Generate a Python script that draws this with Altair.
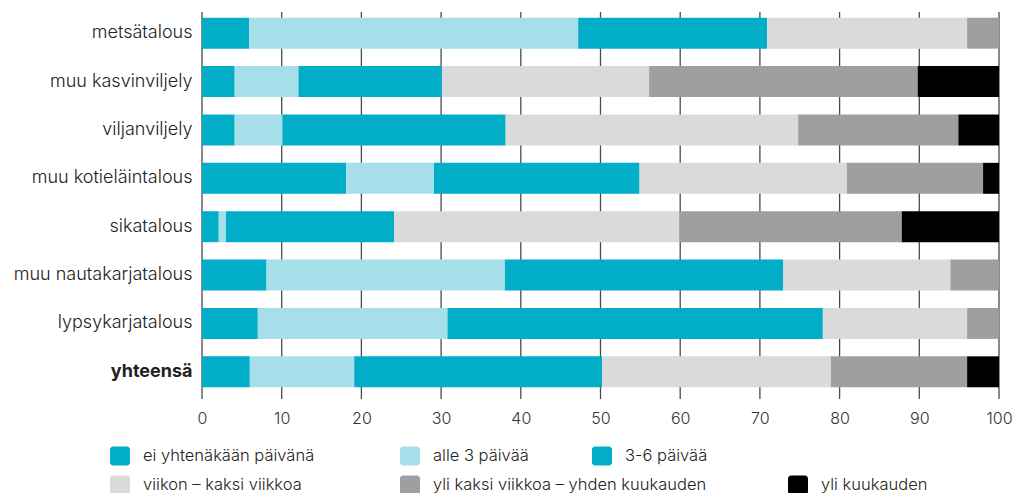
import altair as alt
import pandas as pd

categories = ["metsätalous", "muu kasvinviljely", "viljanviljely", "muu kotieläintalous",
              "sikatalous", "muu nautakarjatalous", "lypsykarjatalous", "yhteensä"]
series = ["ei yhtenäkään päivänä", "alle 3 päivää", "3-6 päivää",
          "viikon – kaksi viikkoa", "yli kaksi viikkoa – yhden kuukauden", "yli kuukauden"]
colors = ["#02ADC8", "#A6DFEA", "#02ADC8", "#D9DBDB", "#9E9FA1", "#000000"]

ei_yhtenakaan = [5.9, 4.1, 4.1, 18.1, 2.1, 8.1, 7.0, 6.0]
alle_3 = [41.3, 8.0, 6.0, 11.0, 0.9, 29.9, 23.8, 13.1]
p3_6 = [23.7, 18.0, 28.0, 25.8, 21.1, 34.9, 47.1, 31.1]
viikko_2vk = [25.1, 26.0, 36.7, 26.0, 35.8, 21.0, 18.1, 28.7]
yli_2vk_kk = [4.0, 33.7, 20.1, 17.1, 27.9, 6.1, 4.0, 17.1]
yli_kk = [0.0, 10.2, 5.1, 2.0, 12.2, 0.0, 0.0, 4.0]
x_ticks = [0, 10, 20, 30, 40, 50, 60, 70, 80, 90, 100]

values = [ei_yhtenakaan, alle_3, p3_6, viikko_2vk, yli_2vk_kk, yli_kk]
rows = []
for si, (s, vals) in enumerate(zip(series, values)):
    for c, v in zip(categories, vals):
        rows.append({"cat": c, "series": s, "order": si, "value": v})
df = pd.DataFrame(rows)

FONT = "Inter"
W, H = 797, 387
LEFT = 194

xscale = alt.Scale(domain=[0, 100], nice=False, zero=True)
xaxis = alt.Axis(values=x_ticks, grid=False, ticks=False, domain=False,
                 labelFontSize=16, labelColor="#333", labelFont=FONT,
                 labelFontWeight=300, labelPadding=14, labelFlush=False,
                 labelOverlap=False)

grid = alt.Chart(pd.DataFrame({"t": x_ticks})).mark_rule(
    color="#4a4a4a", strokeWidth=1.3
).encode(
    x=alt.X("t:Q", scale=xscale, axis=xaxis, title=None),
    y=alt.value(3),
    y2=alt.value(H + 3),
)

bars = alt.Chart(df).mark_bar().encode(
    y=alt.Y("cat:N", sort=categories, title=None,
            scale=alt.Scale(paddingInner=0.36, paddingOuter=0.18),
            axis=alt.Axis(ticks=False, domain=False, labelFontSize=18, labelColor="#222",
                          labelFont=FONT, labelPadding=10,
                          labelFontWeight=alt.condition("datum.value == 'yhteensä'",
                                                        alt.value("bold"), alt.value(300)))),
    x=alt.X("value:Q", stack="zero", scale=xscale, title=None, axis=xaxis),
    color=alt.Color("series:N", scale=alt.Scale(domain=series, range=colors), legend=None),
    order=alt.Order("order:Q"),
)

main = alt.layer(grid, bars)

# manual legend (layout positions in pixels relative to plot origin)
sym_abs = [120, 410, 602, 120, 410, 798]
sym_x = [x - 8 - LEFT for x in sym_abs]
row_y = [447, 447, 447, 476, 476, 476]
leg = pd.DataFrame({
    "label": series,
    "col": colors,
    "x1": [x - 10 for x in sym_x],
    "x2": [x + 10 for x in sym_x],
    "y1": [y - 9.5 for y in row_y],
    "y2": [y + 9.5 for y in row_y],
    "tx": [x + 23 for x in sym_x],
    "ty": row_y,
})
leg_sym = alt.Chart(leg).mark_rect(cornerRadius=3).encode(
    x=alt.X("x1:Q", scale=None, axis=None), x2="x2:Q",
    y=alt.Y("y1:Q", scale=None, axis=None), y2="y2:Q",
    color=alt.Color("col:N", scale=None, legend=None),
)
leg_txt = alt.Chart(leg).mark_text(align="left", baseline="middle", fontSize=16.5,
                                   font=FONT, fontWeight=300, color="#222").encode(
    x=alt.X("tx:Q", scale=None, axis=None),
    y=alt.Y("ty:Q", scale=None, axis=None),
    text="label:N",
)

chart = alt.layer(main, leg_sym, leg_txt).resolve_scale(
    x="independent", y="independent", color="independent"
).properties(
    width=W, height=H,
    autosize=alt.AutoSizeParams(type="none"),
    padding={"left": LEFT, "top": 1, "right": 16, "bottom": 97},
).configure_view(stroke=None)

chart.save("out.html", embed_options={"renderer": "svg", "actions": False})
